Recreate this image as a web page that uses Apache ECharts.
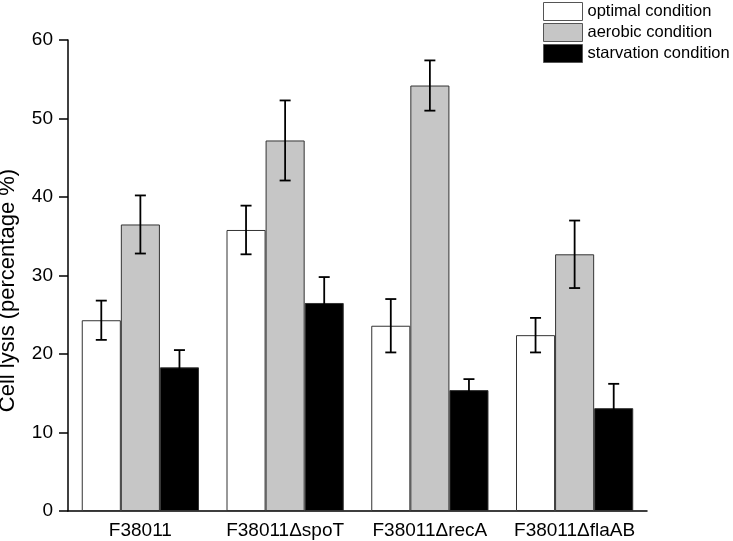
<!DOCTYPE html>
<html>
<head>
<meta charset="utf-8">
<script src="https://cdn.jsdelivr.net/npm/echarts@6/dist/echarts.min.js"></script>
<style>
  html, body { margin: 0; padding: 0; background: #fff; }
  #chart { width: 733px; height: 541px; }
</style>
</head>
<body>
<div id="chart"></div>
<script>
const strains = ['F38011', 'F38011ΔspoT', 'F38011ΔrecA', 'F38011ΔflaAB']
const conditions = ['optimal condition', 'aerobic condition', 'starvation condition']

const optimal = [24.3, 35.8, 23.6, 22.4]
const aerobic = [36.5, 47.2, 54.2, 32.7]
const starvation = [18.3, 26.5, 15.4, 13.1]

const optimalErr = [2.5, 3.1, 3.4, 2.2]
const aerobicErr = [3.7, 5.1, 3.2, 4.3]
const starvationErr = [2.2, 3.3, 1.4, 3.1]

const fills = ['#ffffff', '#c6c6c6', '#000000']
const means = [optimal, aerobic, starvation]
const errs = [optimalErr, aerobicErr, starvationErr]

const font = 'Liberation Sans, Arial, sans-serif'
const catGap = 0.19

const chart = echarts.init(document.getElementById('chart'))

const barSeries = conditions.map((name, i) => ({
  name,
  type: 'bar',
  data: means[i],
  barGap: '0%',
  barCategoryGap: (catGap * 100) + '%',
  itemStyle: { color: fills[i], borderColor: '#333', borderWidth: 1 },
  silent: true
}))

const errSeries = conditions.map((name, i) => ({
  type: 'custom',
  name: name + ' err',
  data: strains.map((_, j) => [j, means[i][j] - errs[i][j], means[i][j] + errs[i][j]]),
  z: 10,
  silent: true,
  renderItem(params, api) {
    const band = api.size([1, 0])[0]
    const bw = band * (1 - catGap) / 3
    const x = api.coord([api.value(0), 0])[0] + (i - 1) * bw
    const lo = api.coord([api.value(0), api.value(1)])[1]
    const hi = api.coord([api.value(0), api.value(2)])[1]
    const half = 5.5
    const style = { stroke: '#000', lineWidth: 1.8 }
    return {
      type: 'group',
      children: [
        { type: 'line', shape: { x1: x, y1: lo, x2: x, y2: hi }, style },
        { type: 'line', shape: { x1: x - half, y1: hi, x2: x + half, y2: hi }, style },
        { type: 'line', shape: { x1: x - half, y1: lo, x2: x + half, y2: lo }, style }
      ]
    }
  }
}))

chart.setOption({
  animation: false,
  backgroundColor: '#fff',
  grid: { left: 68, right: 86, top: 40, bottom: 30, outerBoundsMode: 'none', containLabel: false },
  legend: {
    data: conditions,
    orient: 'vertical',
    left: 543,
    top: 2,
    padding: 0,
    itemWidth: 39,
    itemHeight: 18,
    itemGap: 2,
    icon: 'rect',
    itemStyle: { borderColor: '#555', borderWidth: 1 },
    textStyle: { fontFamily: font, fontSize: 16.5, lineHeight: 18, color: '#000' }
  },
  xAxis: {
    type: 'category',
    data: strains,
    axisLine: { lineStyle: { color: '#000', width: 1.5 } },
    axisTick: { show: false },
    axisLabel: { color: '#000', fontFamily: font, fontSize: 19, margin: 10, interval: 0 }
  },
  yAxis: {
    type: 'value',
    min: 0,
    max: 60,
    interval: 10,
    name: 'Cell lysis (percentage %)',
    nameLocation: 'middle',
    nameRotate: 90,
    nameGap: 49,
    nameTextStyle: { color: '#000', fontFamily: font, fontSize: 22, padding: [0, 30, 0, 0] },
    axisLine: { show: true, lineStyle: { color: '#000', width: 1.5 } },
    axisTick: { show: true, length: 9, lineStyle: { color: '#000', width: 1.5 } },
    axisLabel: { color: '#000', fontFamily: font, fontSize: 19, margin: 15 },
    splitLine: { show: false }
  },
  series: [...barSeries, ...errSeries]
})
</script>
</body>
</html>
